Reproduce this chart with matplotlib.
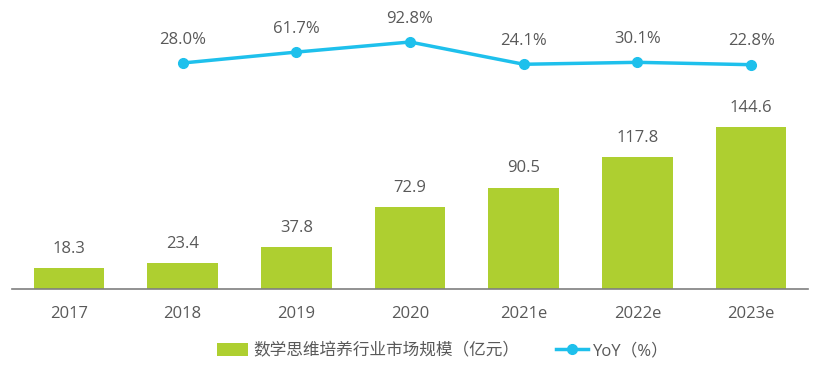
import numpy as np
import matplotlib.pyplot as plt
from matplotlib.lines import Line2D
from matplotlib.patches import Patch

plt.rcParams['font.family'] = ['Open Sans', 'Noto Sans CJK SC', 'DejaVu Sans']

years = ['2017', '2018', '2019', '2020', '2021e', '2022e', '2023e']
market_size = [18.3, 23.4, 37.8, 72.9, 90.5, 117.8, 144.6]
yoy_years = ['2018', '2019', '2020', '2021e', '2022e', '2023e']
yoy = [28.0, 61.7, 92.8, 24.1, 30.1, 22.8]

bar_color = '#AECF30'
line_color = '#1EC0EC'
text_color = '#595959'

fig = plt.figure(figsize=(8.27, 3.73), dpi=100)
ax = fig.add_axes([12 / 827, 1 - 289 / 373, 796 / 827, 279 / 373])

x = np.arange(len(years))
ax.bar(x, market_size, width=0.62, color=bar_color, zorder=2)
for xi, v in zip(x, market_size):
    ax.annotate(f'{v:.1f}', (xi, v), xytext=(0, 8), textcoords='offset points',
                ha='center', va='bottom', fontsize=12, color=text_color)

ax.set_xlim(-0.5, len(years) - 0.5)
ax.set_ylim(0, 249)
ax.set_xticks(x)
ax.set_xticklabels(years, fontsize=12, color=text_color)
ax.tick_params(axis='x', length=0, pad=12)
ax.set_yticks([])
for s in ['top', 'right', 'left']:
    ax.spines[s].set_visible(False)
ax.spines['bottom'].set_color('#7F7F7F')
ax.spines['bottom'].set_linewidth(1.2)

ax2 = ax.twinx()
xl = [years.index(y) for y in yoy_years]
ax2.plot(xl, yoy, color=line_color, linewidth=2.5, marker='o', markersize=7, zorder=3)
for xi, v in zip(xl, yoy):
    ax2.annotate(f'{v:.1f}%', (xi, v), xytext=(0, 11), textcoords='offset points',
                 ha='center', va='bottom', fontsize=12, color=text_color)
ax2.set_ylim(-669.5, 191.6)
ax2.set_yticks([])
for s in ['top', 'right', 'left', 'bottom']:
    ax2.spines[s].set_visible(False)

handles = [
    Patch(facecolor=bar_color, edgecolor='none'),
    Line2D([0], [0], color=line_color, linewidth=2.5, marker='o', markersize=7),
]
labels = ['数学思维培养行业市场规模（亿元）', 'YoY（%）']
fig.legend(handles, labels, loc='center', bbox_to_anchor=(0.535, 1 - 351 / 373),
           ncol=2, frameon=False, fontsize=12, labelcolor=text_color,
           handlelength=1.9, handleheight=0.8, columnspacing=2.2, handletextpad=0.3)

fig.savefig('out.png', dpi=100)
